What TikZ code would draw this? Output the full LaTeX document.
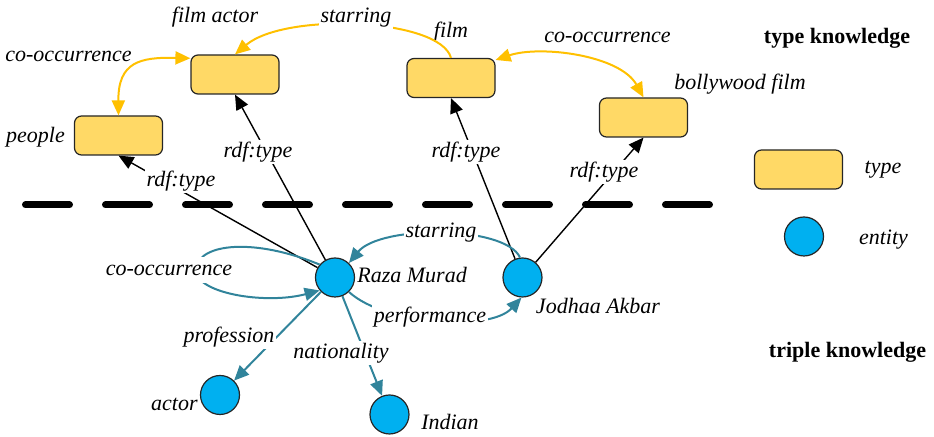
\documentclass[tikz,border=0pt]{standalone}
\usepackage{fontspec}
\setmainfont{Liberation Serif}
\usetikzlibrary{arrows.meta}
\definecolor{boxfill}{HTML}{FFD966}
\definecolor{yarrow}{HTML}{FFC000}
\definecolor{entblue}{HTML}{00B0F0}
\definecolor{tealc}{HTML}{31849B}
\tikzset{
  typebox/.style={draw=black!85, line width=0.6pt, fill=boxfill, rounded corners=3.5pt, minimum width=44pt, minimum height=19.5pt, inner sep=0pt},
  entity/.style={draw=black!85, line width=0.6pt, fill=entblue, circle, minimum size=19.5pt, inner sep=0pt},
  tip/.style={-{Triangle[length=7.5pt,width=6.5pt]}},
  dtip/.style={{Triangle[length=7.5pt,width=6.5pt]}-{Triangle[length=7.5pt,width=6.5pt]}},
  yedge/.style={draw=yarrow, line width=1pt, tip, yarrow},
  ydedge/.style={draw=yarrow, line width=1pt, dtip, yarrow},
  bedge/.style={draw=black, line width=0.7pt, tip},
  tedge/.style={draw=tealc, line width=1pt, tip, tealc},
  lbl/.style={font=\itshape\fontsize{11}{13}\selectfont, inner sep=1pt},
  elbl/.style={lbl, fill=white},
  bold/.style={font=\bfseries\fontsize{11}{13}\selectfont, inner sep=1pt}
}
\begin{document}
\begin{tikzpicture}[x=0.5pt,y=-0.5pt]
\useasboundingbox (0,0) rectangle (934,437);
% separator
\draw[line width=3.5pt, line cap=round, dash pattern=on 22pt off 18pt] (25.5,205) -- (710,205);
% type nodes
\node[typebox] (filmactor) at (235,74.5) {};
\node[typebox] (people) at (118.5,135.5) {};
\node[typebox] (film) at (451,78) {};
\node[typebox] (bolly) at (643.5,117.5) {};
\node[typebox] (legbox) at (798.5,169.5) {};
% entity nodes
\node[entity] (raza) at (335,277.5) {};
\node[entity] (jodhaa) at (522.5,277.5) {};
\node[entity] (actor) at (220,395) {};
\node[entity] (indian) at (389.5,414.5) {};
\node[entity] (legent) at (804,236.5) {};
% node labels
\node[lbl] (tfilmactor) at (215,17) {film actor};
\node[lbl] (tpeople) at (35.5,137) {people};
\node[lbl] (tfilm) at (451,32) {film};
\node[lbl] (tbolly) at (740,84) {bollywood film};
\node[lbl] (traza) [anchor=west] at (355,275) {Raza Murad};
\node[lbl] (tjodhaa) at (598,306) {Jodhaa Akbar};
\node[lbl] (tactor) [anchor=east] at (200,404) {actor};
\node[lbl] (tindian) at (450,422) {Indian};
\node[lbl] (ttype) at (883,170) {type};
\node[lbl] (tentity) at (883.5,240) {entity};
\node[bold] (ttk) at (837,38) {type knowledge};
\node[bold] (ttrk) at (847.5,352) {triple knowledge};
\node[lbl] (tcoo1) at (68.5,56) {co-occurrence};
\node[lbl] (tcoo2) at (607.5,37) {co-occurrence};
% yellow edges
\draw[yedge] (film.north) .. controls (440,18) and (285,12) .. (filmactor.north);
\draw[ydedge] (people.north) .. controls (118,62) and (140,57) .. (filmactor.160);
\draw[ydedge] (film.22) .. controls (540,45) and (620,55) .. (bolly.north);
% rdf:type edges
\draw[bedge] (raza) -- (people.south);
\draw[bedge] (raza) -- (filmactor.south);
\draw[bedge] (jodhaa) -- (film.south);
\draw[bedge] (jodhaa) -- (bolly.south);
% teal edges
\draw[tedge] (raza.140) .. controls (255,238) and (200,243) .. (196,268) .. controls (192,293) and (265,305) .. (raza.220);
\draw[tedge] (jodhaa.97) .. controls (505,225) and (380,225) .. (raza.46);
\draw[tedge] (raza.-46) .. controls (385,325) and (490,332) .. (jodhaa.-93);
\draw[tedge] (raza) -- (actor);
\draw[tedge] (raza) -- (indian);
% edge labels
\node[elbl] (lstar1) at (356,18) {starring};
\node[elbl] (lrdf1) at (181,181) {rdf:type};
\node[elbl] (lrdf2) at (258,152) {rdf:type};
\node[elbl] (lrdf3) at (466,152) {rdf:type};
\node[elbl] (lrdf4) at (604,172) {rdf:type};
\node[elbl, minimum height=13pt] (lcoo3) at (169,270) {co-occurrence};
\node[elbl] (lstar2) at (441,233) {starring};
\node[elbl] (lperf) at (430,317) {performance};
\node[elbl] (lprof) at (229,337) {profession};
\node[elbl] (lnat) at (341,353) {nationality};
\end{tikzpicture}
\end{document}
